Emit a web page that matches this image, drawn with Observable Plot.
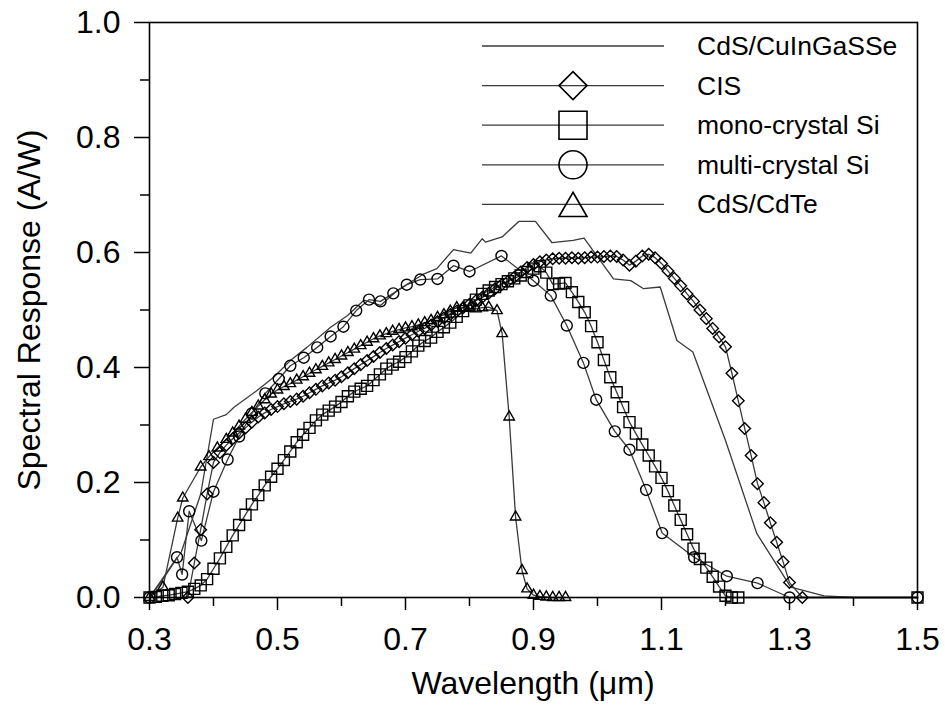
<!DOCTYPE html>
<html><head><meta charset="utf-8">
<script src="https://cdn.jsdelivr.net/npm/d3@7"></script>
<script src="https://cdn.jsdelivr.net/npm/@observablehq/plot@0.6"></script>
<style>
body{margin:0;background:#fff;}
#chart svg{font-family:"Liberation Sans",Arial,sans-serif;}
</style>
</head><body><div id="chart"></div>
<script>
// ---------- data ----------
const seriesNames = ["CdS/CuInGaSSe", "CIS", "mono-crystal Si", "multi-crystal Si", "CdS/CdTe"];

const xTicks = [0.3, 0.5, 0.7, 0.9, 1.1, 1.3, 1.5];
const xMinor = [0.4, 0.6, 0.8, 1.0, 1.2, 1.4];
const yTicks = [0, 0.2, 0.4, 0.6, 0.8, 1.0];
const yMinor = [0.1, 0.3, 0.5, 0.7, 0.9];

// CdS/CuInGaSSe (line only)
const cigsX = [0.30,0.32,0.35,0.38,0.40,0.42,0.432,0.468,0.494,0.52,0.546,0.583,0.609,0.635,0.661,0.687,0.729,0.749,0.775,0.802,0.82,0.825,0.851,0.877,0.903,0.929,0.962,0.979,1.025,1.052,1.072,1.098,1.124,1.149,1.20,1.249,1.302,1.354,1.40,1.50];
const cigsY = [0,0.03,0.08,0.18,0.31,0.318,0.331,0.36,0.383,0.412,0.435,0.47,0.49,0.517,0.508,0.534,0.563,0.572,0.605,0.599,0.624,0.618,0.627,0.654,0.654,0.617,0.621,0.625,0.554,0.551,0.537,0.54,0.447,0.427,0.273,0.111,0.018,0.003,0,0];

// CIS (diamonds)
const cisX = [0.36,0.37,0.38,0.39,0.40,0.41,0.42,0.43,0.44,0.45,0.46,0.47,0.48,0.49,0.50,0.51,0.52,0.53,0.54,0.55,0.56,0.57,0.58,0.59,0.60,0.61,0.62,0.63,0.64,0.65,0.66,0.67,0.68,0.69,0.70,0.71,0.72,0.73,0.74,0.75,0.76,0.77,0.78,0.79,0.80,0.81,0.82,0.83,0.84,0.85,0.86,0.87,0.88,0.89,0.90,0.91,0.92,0.93,0.94,0.95,0.96,0.97,0.98,0.99,1.00,1.01,1.02,1.03,1.04,1.05,1.06,1.07,1.08,1.09,1.10,1.11,1.12,1.13,1.14,1.15,1.16,1.17,1.18,1.19,1.20,1.21,1.22,1.23,1.24,1.25,1.26,1.27,1.28,1.29,1.30,1.32];
const cisY = [0,0.06,0.118,0.18,0.235,0.252,0.265,0.276,0.286,0.295,0.305,0.314,0.321,0.327,0.332,0.337,0.341,0.345,0.35,0.356,0.362,0.368,0.373,0.378,0.384,0.391,0.398,0.405,0.412,0.419,0.426,0.433,0.439,0.445,0.451,0.457,0.463,0.468,0.474,0.48,0.486,0.492,0.498,0.504,0.51,0.516,0.522,0.529,0.537,0.544,0.55,0.557,0.566,0.574,0.579,0.584,0.587,0.589,0.59,0.59,0.591,0.59,0.591,0.592,0.592,0.593,0.594,0.593,0.587,0.578,0.585,0.594,0.597,0.591,0.581,0.568,0.555,0.542,0.528,0.515,0.5,0.485,0.468,0.453,0.436,0.39,0.342,0.294,0.247,0.198,0.165,0.13,0.096,0.062,0.026,0];

// mono-crystal Si (squares)
const monoX = [0.30,0.31,0.32,0.33,0.34,0.35,0.36,0.37,0.38,0.39,0.40,0.41,0.42,0.43,0.44,0.45,0.46,0.47,0.48,0.49,0.50,0.51,0.52,0.53,0.54,0.55,0.56,0.57,0.58,0.59,0.60,0.61,0.62,0.63,0.64,0.65,0.66,0.67,0.68,0.69,0.70,0.71,0.72,0.73,0.74,0.75,0.76,0.77,0.78,0.79,0.80,0.81,0.82,0.83,0.84,0.85,0.86,0.87,0.88,0.89,0.90,0.91,0.92,0.93,0.94,0.95,0.96,0.97,0.98,0.99,1.00,1.01,1.02,1.03,1.04,1.05,1.06,1.07,1.08,1.09,1.10,1.11,1.12,1.13,1.14,1.15,1.16,1.17,1.18,1.19,1.20,1.21,1.22,1.50];
const monoY = [0,0.001,0.003,0.004,0.006,0.008,0.01,0.015,0.021,0.032,0.05,0.068,0.088,0.108,0.126,0.144,0.162,0.178,0.195,0.21,0.224,0.239,0.254,0.27,0.283,0.295,0.308,0.318,0.325,0.332,0.34,0.35,0.358,0.363,0.368,0.378,0.388,0.398,0.405,0.41,0.418,0.428,0.438,0.446,0.452,0.462,0.47,0.478,0.488,0.498,0.508,0.518,0.528,0.534,0.54,0.545,0.55,0.555,0.56,0.566,0.572,0.576,0.565,0.545,0.546,0.547,0.531,0.514,0.496,0.472,0.444,0.413,0.383,0.357,0.331,0.305,0.285,0.266,0.247,0.228,0.208,0.185,0.16,0.135,0.11,0.085,0.067,0.052,0.036,0.019,0.003,0,0,0];

// multi-crystal Si (circles)
const multiX = [0.30,0.343,0.351,0.362,0.381,0.40,0.422,0.44,0.46,0.481,0.502,0.52,0.541,0.562,0.583,0.603,0.623,0.643,0.661,0.681,0.702,0.723,0.75,0.775,0.80,0.85,0.90,0.927,0.952,0.978,0.998,1.027,1.05,1.076,1.101,1.151,1.202,1.25,1.30,1.50];
const multiY = [0,0.07,0.04,0.15,0.099,0.184,0.24,0.28,0.32,0.355,0.38,0.403,0.417,0.435,0.454,0.471,0.499,0.518,0.515,0.529,0.544,0.553,0.554,0.577,0.567,0.594,0.551,0.525,0.473,0.408,0.344,0.289,0.257,0.187,0.112,0.07,0.037,0.025,0,0];

// CdS/CdTe (triangles)
const cdteX = [0.30,0.321,0.344,0.352,0.38,0.393,0.406,0.42,0.43,0.44,0.45,0.46,0.47,0.48,0.49,0.50,0.51,0.52,0.53,0.54,0.55,0.56,0.57,0.58,0.59,0.60,0.61,0.62,0.63,0.64,0.65,0.66,0.67,0.68,0.69,0.70,0.71,0.72,0.73,0.74,0.75,0.76,0.77,0.78,0.79,0.80,0.81,0.82,0.83,0.843,0.851,0.862,0.872,0.882,0.89,0.90,0.91,0.92,0.93,0.94,0.95];
const cdteY = [0,0.018,0.138,0.173,0.227,0.245,0.26,0.275,0.286,0.298,0.31,0.322,0.333,0.344,0.354,0.361,0.367,0.372,0.378,0.384,0.39,0.396,0.402,0.408,0.414,0.42,0.426,0.432,0.438,0.444,0.45,0.455,0.459,0.463,0.466,0.469,0.471,0.474,0.478,0.482,0.487,0.492,0.498,0.504,0.504,0.503,0.502,0.504,0.505,0.499,0.459,0.314,0.14,0.047,0.015,0.004,0.002,0.001,0,0,0];

// ---------- build ----------
const rows = (xs, ys) => xs.map((x, i) => ({x, y: ys[i]}));
const cigs = rows(cigsX, cigsY);
const cis = rows(cisX, cisY);
const mono = rows(monoX, monoY);
const multi = rows(multiX, multiY);
const cdte = rows(cdteX, cdteY);

const lineStyle = {x: "x", y: "y", stroke: "#3a3a3a", strokeWidth: 1.3};
const dotStyle = {x: "x", y: "y", stroke: "black", strokeWidth: 1.4, fill: "none"};
const fmt = d => d.toFixed(1);

const chart = Plot.plot({
  width: 945, height: 710,
  marginLeft: 149, marginRight: 28, marginTop: 22, marginBottom: 113,
  style: {fontFamily: "Liberation Sans, Arial, sans-serif", background: "white", color: "black"},
  x: {domain: [0.3, 1.5]},
  y: {domain: [0, 1]},
  marks: [
    Plot.line(cigs, lineStyle),
    Plot.line(cis, lineStyle),
    Plot.line(mono, lineStyle),
    Plot.line(multi, lineStyle),
    Plot.line(cdte, lineStyle),
    Plot.dot(cis, {...dotStyle, symbol: "diamond2", r: 5.2}),
    Plot.dot(mono, {...dotStyle, symbol: "square2", r: 7}),
    Plot.dot(multi, {...dotStyle, symbol: "circle", r: 5.5}),
    Plot.dot(cdte, {...dotStyle, symbol: "triangle2", r: 5}),
    Plot.frame({stroke: "black", strokeWidth: 1.6}),
    Plot.axisX({ticks: xTicks, tickSize: 13, tickPadding: 17, fontSize: 32, tickFormat: fmt, label: null, strokeWidth: 1.5}),
    Plot.axisX({ticks: xMinor, tickSize: 9, tickFormat: () => "", label: null, strokeWidth: 1.5}),
    Plot.axisY({ticks: yTicks, tickSize: 15, tickPadding: 14, fontSize: 32, tickFormat: fmt, label: null, strokeWidth: 1.5}),
    Plot.axisY({ticks: yMinor, tickSize: 9, tickFormat: () => "", label: null, strokeWidth: 1.5})
  ]
});
document.getElementById("chart").appendChild(chart);

// ---------- titles & legend (layout) ----------
const svg = d3.select(chart);
svg.append("text").attr("x", 533).attr("y", 683).attr("text-anchor", "middle")
  .attr("dominant-baseline", "central").attr("font-size", 32).attr("fill", "black")
  .text("Wavelength (\u03BCm)");
svg.append("text").attr("transform", "translate(29,310) rotate(-90)").attr("text-anchor", "middle")
  .attr("dominant-baseline", "central").attr("font-size", 32).attr("fill", "black")
  .text("Spectral Response (A/W)");

const legendSymbols = [null, d3.symbolDiamond2, d3.symbolSquare2, d3.symbolCircle, d3.symbolTriangle2];
const legendSizes = [0, 500, 999, 616, 561];
const legendShift = [0, 0, 0, 0, 4];
const lg = svg.append("g");
seriesNames.forEach((name, i) => {
  const yy = 46 + i * 39.6;
  lg.append("line").attr("x1", 482).attr("x2", 664).attr("y1", yy).attr("y2", yy)
    .attr("stroke", "#3a3a3a").attr("stroke-width", 1.3);
  if (legendSymbols[i]) {
    lg.append("path").attr("d", d3.symbol(legendSymbols[i], legendSizes[i])())
      .attr("transform", `translate(573,${yy + legendShift[i]})`)
      .attr("fill", "none").attr("stroke", "black").attr("stroke-width", 1.6);
  }
  lg.append("text").attr("x", 697).attr("y", yy).attr("dominant-baseline", "central")
    .attr("text-anchor", "start")
    .attr("font-size", 26.5).attr("fill", "black").text(name);
});
</script></body></html>
